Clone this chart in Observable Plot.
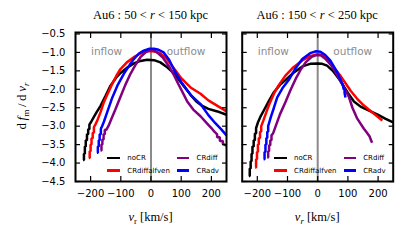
<!DOCTYPE html>
<html><head><meta charset="utf-8">
<script src="https://cdn.jsdelivr.net/npm/d3@7"></script>
<script src="https://cdn.jsdelivr.net/npm/@observablehq/plot@0.6"></script>
<style>
html,body{margin:0;padding:0;background:#fff;}
#chart{position:relative;width:408px;height:242px;overflow:hidden;font-family:"DejaVu Sans",sans-serif;}
#chart svg{position:absolute;top:0;}
.t{position:absolute;font-family:"Liberation Serif",serif;white-space:nowrap;color:#000;line-height:1;}
.t sub{font-size:70%;vertical-align:baseline;position:relative;top:0.3em;}
.lg{position:absolute;font-family:"DejaVu Sans",sans-serif;font-size:7px;white-space:nowrap;line-height:1;}
</style></head><body><div id="chart"></div>
<script>
// ---------- data ----------
const seriesNames = ["noCR", "CRdiffalfven", "CRdiff", "CRadv"];
const seriesColors = ["#000000", "#ff0000", "#800080", "#0000ff"];
const panelTitles = ["Au6 : 50 &lt; <i>r</i> &lt; 150 kpc", "Au6 : 150 &lt; <i>r</i> &lt; 250 kpc"];
const xLabels = ["<i>v</i><sub>r</sub> [km/s]", "<i>v</i><sub><i>r</i></sub> [km/s]"];
const yLabel = "d\u2009<i>f</i><sub>m</sub>\u2009/\u2009d\u2009<i>v</i><sub><i>r</i></sub>";
const yTicks = [-4.5, -4.0, -3.5, -3.0, -2.5, -2.0, -1.5, -1.0, -0.5];
const xTicks = [-200, -100, 0, 100, 200];
const flowLabels = ["inflow", "outflow"];
const flowLabelV = [-147, 116];

// panel 1: 50 < r < 150 kpc  ([v_r, df/dv])
const inner_noCR = [[-225,-3.92],[-222,-3.92],[-222,-3.75],[-219,-3.75],[-219,-3.55],[-216,-3.55],[-216,-3.38],[-212,-3.38],[-212,-3.22],[-208,-3.22],[-208,-3.08],[-204,-3.08],[-204,-2.96],[-198,-2.88],[-190,-2.76],[-180,-2.62],[-167,-2.45],[-150,-2.17],[-134,-1.9],[-115,-1.68],[-100,-1.55],[-80,-1.42],[-57,-1.3],[-35,-1.23],[-13,-1.2],[10,-1.21],[31,-1.27],[50,-1.38],[75,-1.56],[100,-1.82],[131,-2.15],[150,-2.33],[170,-2.45],[190,-2.53],[220,-2.6],[250,-2.69]];
const inner_CRdiffalfven = [[-206,-3.86],[-203,-3.86],[-203,-3.68],[-200,-3.68],[-200,-3.5],[-197,-3.5],[-197,-3.33],[-193,-3.33],[-193,-3.18],[-189,-3.18],[-189,-3.03],[-184,-2.95],[-178,-2.85],[-167,-2.62],[-156,-2.35],[-145,-2.15],[-130,-1.88],[-115,-1.64],[-101,-1.45],[-80,-1.27],[-57,-1.13],[-35,-1.03],[-13,-0.97],[0,-0.96],[15,-0.98],[31,-1.03],[50,-1.15],[75,-1.42],[100,-1.7],[131,-1.95],[164,-2.12],[190,-2.3],[220,-2.45],[250,-2.6]];
const inner_CRdiff = [[-167,-3.66],[-164,-3.66],[-164,-3.5],[-161,-3.5],[-161,-3.36],[-157,-3.36],[-157,-3.22],[-153,-3.22],[-153,-3.1],[-148,-3.1],[-140,-2.98],[-134,-2.86],[-118,-2.55],[-101,-2.2],[-85,-1.88],[-68,-1.58],[-50,-1.32],[-35,-1.13],[-18,-1.0],[-5,-0.94],[8,-0.94],[20,-1.0],[40,-1.15],[60,-1.38],[75,-1.6],[90,-1.85],[109,-2.15],[120,-2.33],[140,-2.55],[164,-2.73],[186,-2.93],[200,-3.05],[210,-3.15],[219,-3.22],[219,-3.3],[228,-3.3],[228,-3.4],[238,-3.4],[238,-3.48],[250,-3.53]];
const inner_CRadv = [[-179,-3.72],[-176,-3.72],[-176,-3.55],[-173,-3.55],[-173,-3.38],[-170,-3.38],[-170,-3.22],[-166,-3.22],[-166,-3.07],[-162,-3.0],[-156,-2.88],[-145,-2.62],[-128,-2.22],[-110,-1.88],[-90,-1.58],[-70,-1.33],[-57,-1.18],[-40,-1.03],[-24,-0.95],[-5,-0.9],[10,-0.9],[25,-0.93],[42,-1.0],[60,-1.2],[75,-1.45],[100,-1.8],[131,-2.15],[164,-2.4],[190,-2.7],[213,-2.92],[232,-3.08],[250,-3.25]];

// panel 2: 150 < r < 250 kpc
const outer_noCR = [[-228,-4.35],[-225,-4.35],[-225,-4.15],[-222,-4.15],[-222,-3.95],[-219,-3.95],[-219,-3.75],[-216,-3.75],[-216,-3.55],[-212,-3.55],[-212,-3.38],[-208,-3.38],[-208,-3.2],[-204,-3.2],[-204,-3.05],[-198,-2.9],[-190,-2.75],[-175,-2.52],[-162,-2.32],[-145,-2.08],[-125,-1.88],[-107,-1.75],[-80,-1.55],[-51,-1.38],[-25,-1.31],[0,-1.3],[15,-1.31],[31,-1.36],[50,-1.5],[75,-1.77],[100,-2.1],[120,-2.33],[142,-2.47],[170,-2.58],[197,-2.68],[225,-2.8],[250,-2.9]];
const outer_CRdiffalfven = [[-207,-4.12],[-204,-4.12],[-204,-3.9],[-201,-3.9],[-201,-3.7],[-198,-3.7],[-198,-3.5],[-195,-3.5],[-195,-3.32],[-191,-3.32],[-191,-3.15],[-187,-3.15],[-187,-3.0],[-180,-2.85],[-170,-2.62],[-160,-2.4],[-145,-2.12],[-130,-1.9],[-107,-1.63],[-80,-1.4],[-51,-1.22],[-25,-1.1],[0,-1.05],[15,-1.07],[31,-1.18],[50,-1.38],[75,-1.63],[109,-2.04],[130,-2.25],[153,-2.44],[180,-2.62],[200,-2.75],[214,-2.85]];
const outer_CRdiff = [[-167,-3.85],[-164,-3.85],[-164,-3.68],[-161,-3.68],[-161,-3.52],[-157,-3.52],[-157,-3.38],[-153,-3.38],[-153,-3.25],[-148,-3.2],[-140,-3.02],[-125,-2.68],[-107,-2.35],[-90,-2.02],[-73,-1.72],[-55,-1.45],[-40,-1.27],[-20,-1.12],[-5,-1.07],[10,-1.08],[25,-1.17],[45,-1.35],[65,-1.62],[85,-1.92],[103,-2.2],[115,-2.5],[130,-2.78],[153,-3.07],[165,-3.2],[172,-3.28],[175,-3.35],[180,-3.45]];
const outer_CRadv = [[-179,-3.9],[-176,-3.9],[-176,-3.7],[-173,-3.7],[-173,-3.5],[-170,-3.5],[-170,-3.32],[-167,-3.32],[-167,-3.15],[-164,-3.15],[-164,-3.0],[-155,-2.75],[-145,-2.5],[-134,-2.22],[-115,-1.95],[-96,-1.75],[-75,-1.45],[-51,-1.18],[-25,-1.02],[-5,-0.97],[9,-0.98],[25,-1.07],[42,-1.22],[65,-1.54],[78,-1.78],[84,-1.9],[86,-2.0],[89,-2.0],[89,-2.1],[92,-2.22]];

const panelData = [
  [inner_noCR, inner_CRdiffalfven, inner_CRdiff, inner_CRadv],
  [outer_noCR, outer_CRdiffalfven, outer_CRdiff, outer_CRadv]
];

// ---------- layout ----------
const H = 242, MT = 32, MB = 61;
const panels = [
  {left: 0, width: 235, ml: 75, mr: 9, yLabels: true},
  {left: 235, width: 173, ml: 6.7, mr: 15.3, yLabels: false}
];

const chart = document.getElementById("chart");

panels.forEach((p, pi) => {
  const rows = [];
  panelData[pi].forEach((arr, si) => arr.forEach(([v, f]) => rows.push({v, f, s: seriesNames[si]})));
  const marks = [
    Plot.ruleX([0], {stroke: "#8a8a8a", strokeWidth: 2}),
    Plot.line(rows, {x: "v", y: "f", z: "s", stroke: "s", strokeWidth: 2.5, strokeLinejoin: "miter", strokeLinecap: "butt"}),
    Plot.text(flowLabels, {x: (d, i) => flowLabelV[i], text: d => d, frameAnchor: "top", dy: 15, fill: "#8c8c8c", fontSize: 10.5, fontFamily: "DejaVu Sans"}),
    Plot.axisX({anchor: "bottom", ticks: xTicks, tickSize: 5, dy: -5, fill: "none", label: null, strokeWidth: 1.2}),
    Plot.axisX({anchor: "top", ticks: xTicks, tickSize: 5, dy: 5, fill: "none", label: null, strokeWidth: 1.2}),
    Plot.axisY({anchor: "left", ticks: yTicks, tickSize: 5, dx: 5, fill: "none", label: null, strokeWidth: 1.2}),
    Plot.axisY({anchor: "right", ticks: yTicks, tickSize: 5, dx: -5, fill: "none", label: null, strokeWidth: 1.2}),
    Plot.axisX({anchor: "bottom", ticks: xTicks, tickSize: 0, tickPadding: 8, tickFormat: d3.format("d"), label: null, fontSize: 10}),
  ];
  if (p.yLabels) marks.push(Plot.axisY({anchor: "left", ticks: yTicks, tickSize: 0, tickPadding: 10, tickFormat: d3.format(".1f"), label: null, fontSize: 10}));
  marks.push(Plot.frame({stroke: "black", strokeWidth: 2}));

  const svg = Plot.plot({
    width: p.width, height: H,
    marginLeft: p.ml, marginRight: p.mr, marginTop: MT, marginBottom: MB,
    x: {domain: [-250, 250]},
    y: {domain: [-4.5, -0.46]},
    color: {domain: seriesNames, range: seriesColors},
    style: {fontFamily: "DejaVu Sans", fontSize: "10px", background: "transparent", overflow: "visible", color: "black"},
    marks
  });
  svg.style.left = p.left + "px";
  chart.appendChild(svg);

  const fl = p.left + p.ml;
  const fr = p.left + p.width - p.mr;
  const cx = (fl + fr) / 2;

  const title = document.createElement("div");
  title.className = "t";
  title.style.fontSize = "12.5px";
  title.style.left = cx + "px";
  title.style.top = "14.5px";
  title.style.transform = "translate(-50%,-50%)";
  title.innerHTML = panelTitles[pi];
  chart.appendChild(title);

  const xl = document.createElement("div");
  xl.className = "t";
  xl.style.fontSize = "12.5px";
  xl.style.left = cx + "px";
  xl.style.top = "217px";
  xl.style.transform = "translate(-50%,-50%)";
  xl.innerHTML = xLabels[pi];
  chart.appendChild(xl);

  // legend
  const frameBottom = H - MB;
  seriesNames.forEach((name, si) => {
    const col = si < 2 ? 0 : 1, row = si % 2;
    const yc = frameBottom - (row === 0 ? 23 : 10.5);
    const lineX = fl + (col === 0 ? 32.3 : 101.8);
    const textX = fl + (col === 0 ? 52.3 : 121.5);
    const sw = document.createElement("div");
    sw.style.position = "absolute";
    sw.style.left = lineX + "px";
    sw.style.top = (yc - 1.25) + "px";
    sw.style.width = "12.7px";
    sw.style.height = "2.5px";
    sw.style.background = seriesColors[si];
    chart.appendChild(sw);
    const tx = document.createElement("div");
    tx.className = "lg";
    tx.style.left = textX + "px";
    tx.style.top = yc + "px";
    tx.style.transform = "translateY(-50%)";
    tx.textContent = name;
    chart.appendChild(tx);
  });
});

const yl = document.createElement("div");
yl.className = "t";
yl.style.fontSize = "13px";
yl.style.left = "22px";
yl.style.top = "106px";
yl.style.transform = "translate(-50%,-50%) rotate(-90deg)";
yl.innerHTML = yLabel;
chart.appendChild(yl);
</script>
</body></html>
